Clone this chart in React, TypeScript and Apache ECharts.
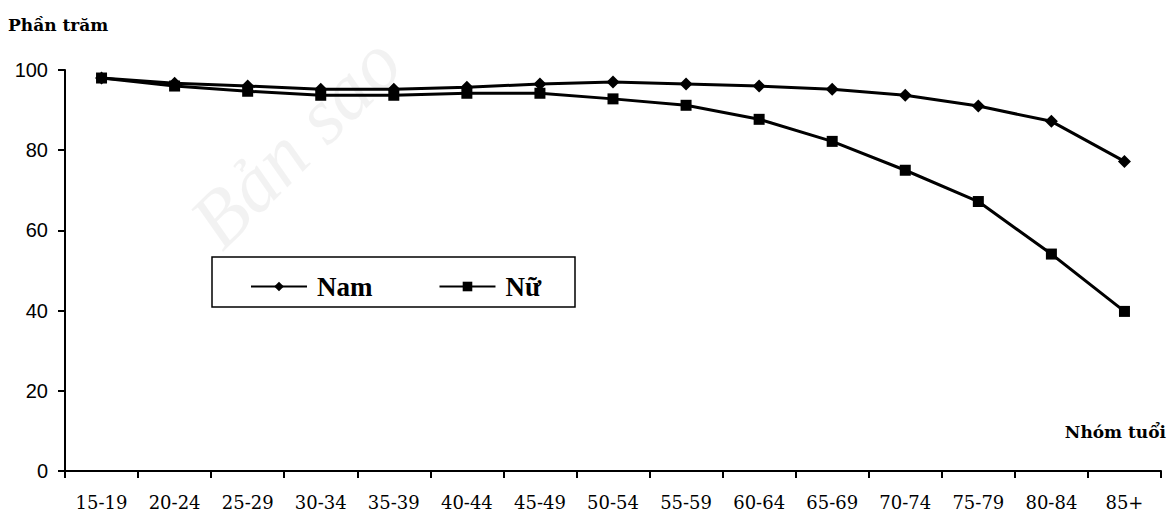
import React, { useEffect, useRef } from "react";
import * as echarts from "echarts";

const categories = ["15-19", "20-24", "25-29", "30-34", "35-39", "40-44", "45-49", "50-54", "55-59", "60-64", "65-69", "70-74", "75-79", "80-84", "85+"];
const namValues = [98, 96.7, 96, 95.2, 95.2, 95.7, 96.5, 97, 96.5, 96, 95.2, 93.7, 91, 87.2, 77.2];
const nuValues = [98, 96, 94.7, 93.7, 93.7, 94.2, 94.2, 92.8, 91.2, 87.7, 82.2, 75, 67.2, 54.1, 39.8];
const yTicks = [0, 20, 40, 60, 80, 100];

const SERIF = "'Liberation Serif', 'DejaVu Serif', serif";
const WIDE_SERIF = "'DejaVu Serif', 'Liberation Serif', serif";
const SANS = "'Liberation Sans', Arial, sans-serif";

export default function App() {
  const ref = useRef<HTMLDivElement>(null);
  useEffect(() => {
    if (!ref.current) return;
    const chart = echarts.init(ref.current, null, { renderer: "svg" });
    chart.setOption({
      animation: false,
      backgroundColor: "#fff",
      grid: { left: 65, right: 7, top: 70, bottom: 41 },
      graphic: [
        {
          type: "text",
          left: 8,
          top: 16,
          style: { text: "Phần trăm", font: `bold 17px ${WIDE_SERIF}`, fill: "#000" },
        },
        {
          type: "text",
          right: 2,
          top: 423,
          style: { text: "Nhóm tuổi", font: `bold 17px ${WIDE_SERIF}`, fill: "#000" },
        },
        {
          type: "text",
          x: 175,
          y: 205,
          rotation: Math.PI / 4,
          style: { text: "Bản sao", font: `italic 80px ${SERIF}`, fill: "rgba(0,0,0,0.05)" },
          z: -1,
        },
        {
          type: "rect",
          shape: { x: 212, y: 257, width: 363, height: 50 },
          style: { fill: "#fff", stroke: "#000", lineWidth: 1.5 },
          z: 50,
        },
      ],
      legend: {
        left: 245,
        top: 268,
        itemGap: 66,
        itemWidth: 56,
        itemHeight: 12,
        z: 60,
        textStyle: { fontFamily: SERIF, fontWeight: "bold", fontSize: 27, color: "#000", padding: [0, 0, 0, 5] },
        data: ["Nam", "Nữ"],
      },
      xAxis: {
        type: "category",
        data: categories,
        boundaryGap: true,
        axisLine: { lineStyle: { color: "#000", width: 2 } },
        axisTick: { show: true, interval: 0, length: 7, lineStyle: { color: "#000", width: 2 } },
        axisLabel: {
          interval: 0,
          margin: 22,
          fontFamily: WIDE_SERIF,
          fontSize: 18,
          color: "#000",
        },
        splitLine: { show: false },
      },
      yAxis: {
        type: "value",
        min: 0,
        max: 100,
        interval: 20,
        axisLine: { show: true, lineStyle: { color: "#000", width: 2 } },
        axisTick: { show: true, length: 7, lineStyle: { color: "#000", width: 2 } },
        axisLabel: {
          margin: 17,
          fontFamily: SANS,
          fontSize: 20,
          color: "#000",
          formatter: (v: number) => (yTicks.includes(v) ? String(v) : ""),
        },
        splitLine: { show: false },
      },
      series: [
        {
          name: "Nam",
          type: "line",
          data: namValues,
          symbol: "diamond",
          symbolSize: 13,
          lineStyle: { color: "#000", width: 3 },
          itemStyle: { color: "#000" },
        },
        {
          name: "Nữ",
          type: "line",
          data: nuValues,
          symbol: "rect",
          symbolSize: 11,
          lineStyle: { color: "#000", width: 3 },
          itemStyle: { color: "#000" },
        },
      ],
    });
    return () => chart.dispose();
  }, []);
  return <div ref={ref} style={{ position: "fixed", left: 0, top: 0, width: 1168, height: 512 }} />;
}
